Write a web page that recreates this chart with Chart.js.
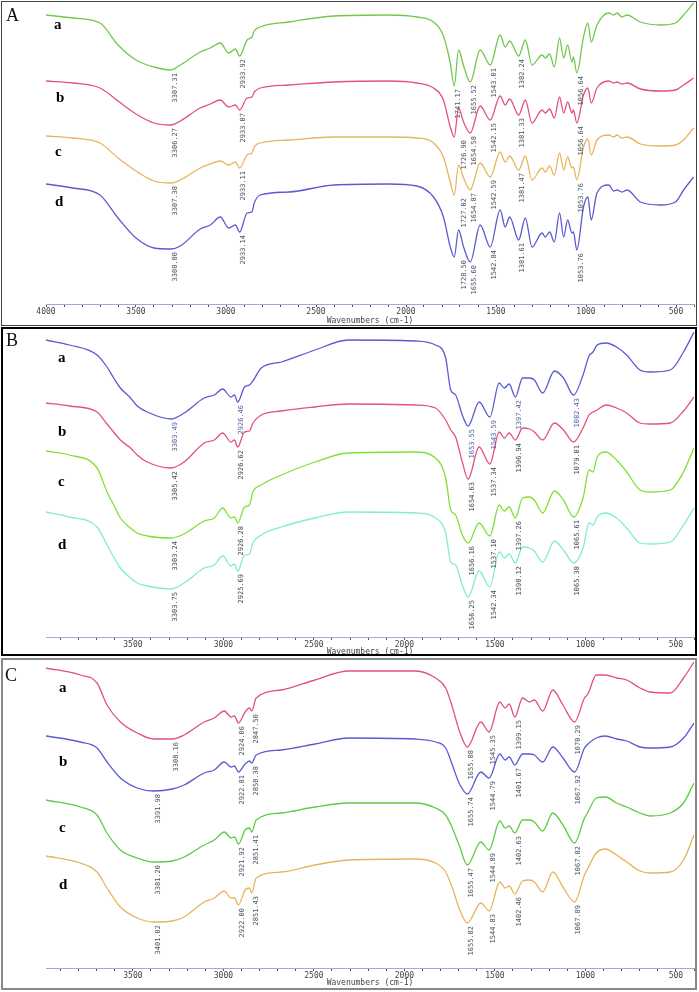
<!DOCTYPE html>
<html>
<head>
<meta charset="utf-8">
<script src="https://cdn.jsdelivr.net/npm/chart.js@4.4.0/dist/chart.umd.min.js"></script>
<style>
body { margin: 0; background: #fff; width: 699px; height: 992px; position: relative; overflow: hidden; }
.frame { position: absolute; box-sizing: border-box; }
#frameA { left: 1px; top: 1px; width: 696px; height: 325px; border: 1px solid #444; }
#frameB { left: 1px; top: 327px; width: 696px; height: 329px; border: 2px solid #000; }
#frameC { left: 1px; top: 658px; width: 696px; height: 332px; border: 2px solid #888; }
canvas { position: absolute; left: 0; }
.panel { position: absolute; font-family: "Liberation Serif", "DejaVu Serif", serif; font-size: 18px; line-height: 18px; color: #111; }
.curve { position: absolute; font-family: "Liberation Serif", "DejaVu Serif", serif; font-weight: bold; font-size: 15px; line-height: 15px; color: #000; }
</style>
</head>
<body>
<div class="frame" id="frameA"></div>
<div class="frame" id="frameB"></div>
<div class="frame" id="frameC"></div>

<canvas id="chartA" width="699" height="324" style="top:2px"></canvas>
<canvas id="chartB" width="699" height="327" style="top:330px"></canvas>
<canvas id="chartC" width="699" height="327" style="top:661px"></canvas>

<div class="panel" style="left:6px;top:6px">A</div>
<div class="curve" style="left:54px;top:17px">a</div>
<div class="curve" style="left:56px;top:90px">b</div>
<div class="curve" style="left:55px;top:144px">c</div>
<div class="curve" style="left:55px;top:194px">d</div>

<div class="panel" style="left:6px;top:331px">B</div>
<div class="curve" style="left:58px;top:350px">a</div>
<div class="curve" style="left:58px;top:424px">b</div>
<div class="curve" style="left:58px;top:474px">c</div>
<div class="curve" style="left:58px;top:537px">d</div>

<div class="panel" style="left:5px;top:666px">C</div>
<div class="curve" style="left:59px;top:680px">a</div>
<div class="curve" style="left:59px;top:754px">b</div>
<div class="curve" style="left:59px;top:820px">c</div>
<div class="curve" style="left:59px;top:877px">d</div>

<script>
// panel A - wavenumbers (cm-1) and transmittance (arbitrary units, offset per curve)
const wnA = [4000, 3850, 3700, 3600, 3500, 3400, 3306, 3254, 3143, 3087, 3032, 2985, 2948, 2924, 2883, 2856, 2843, 2810, 2650, 2400, 2100, 1940, 1847, 1792, 1754, 1732, 1708, 1680, 1643, 1588, 1532, 1477, 1449, 1424, 1374, 1337, 1300, 1244, 1226, 1202, 1176, 1147, 1124, 1102, 1078, 1070, 1051, 1014, 990, 971, 939, 874, 846, 828, 800, 772, 698, 587, 503, 458, 402];
const aA = [289, 286, 281, 259, 244, 237, 234, 239, 252, 256, 261, 251, 255, 248, 264, 267, 273, 277, 282, 288, 289, 287, 282, 268, 241, 218, 254, 238, 222, 254, 239, 269, 257, 263, 248, 264, 239, 249, 246, 250, 237, 266, 246, 259, 242, 247, 231, 267, 281, 262, 279, 291, 289, 291, 287, 289, 282, 279, 281, 289, 301];
const bA = [223, 221, 216, 203, 190, 181, 179, 183, 196, 200, 204, 197, 199, 194, 206, 207, 212, 216, 219, 222, 223, 221, 216, 204, 177, 167, 196, 182, 171, 198, 184, 208, 199, 205, 189, 204, 181, 194, 191, 195, 186, 207, 191, 202, 191, 194, 181, 209, 216, 201, 216, 223, 221, 222, 220, 221, 215, 213, 214, 219, 226];
const cA = [168, 166, 161, 146, 133, 123, 121, 124, 136, 140, 143, 139, 142, 136, 149, 151, 157, 161, 164, 167, 167, 166, 161, 147, 122, 109, 139, 126, 114, 141, 127, 152, 142, 148, 134, 148, 124, 136, 132, 138, 129, 151, 134, 147, 136, 137, 124, 157, 165, 149, 164, 169, 167, 169, 166, 167, 160, 158, 159, 164, 176];
const dA = [120, 116, 109, 86, 66, 56, 55, 58, 75, 79, 87, 76, 79, 72, 91, 92, 101, 109, 112, 119, 120, 118, 107, 87, 57, 47, 74, 57, 42, 79, 57, 94, 77, 87, 64, 86, 57, 71, 67, 72, 62, 91, 67, 84, 71, 72, 54, 97, 107, 84, 111, 119, 113, 114, 112, 114, 102, 99, 102, 114, 127];

// panel B
const wnB = [3980, 3850, 3698, 3643, 3606, 3569, 3513, 3476, 3421, 3290, 3217, 3106, 3050, 3004, 2958, 2939, 2921, 2883, 2856, 2837, 2791, 2680, 2494, 2309, 1939, 1828, 1772, 1744, 1717, 1680, 1648, 1587, 1528, 1476, 1448, 1421, 1387, 1347, 1309, 1282, 1236, 1171, 1121, 1065, 1013, 980, 958, 935, 887, 828, 772, 698, 643, 531, 458, 400];
const aB = [297, 292, 282, 270, 259, 249, 239, 231, 225, 218, 224, 239, 242, 248, 240, 242, 235, 250, 252, 256, 269, 275, 287, 297, 296, 292, 279, 247, 242, 222, 211, 235, 220, 254, 249, 253, 240, 259, 259, 257, 244, 266, 259, 242, 262, 281, 285, 292, 294, 290, 282, 267, 265, 267, 285, 305];
const bB = [234, 231, 225, 213, 205, 197, 189, 182, 175, 169, 175, 194, 197, 204, 195, 197, 190, 205, 206, 214, 222, 226, 230, 233, 232, 229, 217, 207, 200, 175, 158, 190, 173, 205, 199, 204, 197, 209, 208, 205, 197, 214, 207, 195, 209, 222, 225, 227, 232, 229, 224, 214, 213, 214, 226, 240];
const cB = [186, 182, 169, 145, 132, 119, 109, 104, 101, 99, 103, 116, 119, 129, 119, 120, 114, 130, 132, 145, 152, 162, 175, 184, 185, 179, 159, 127, 122, 102, 94, 114, 101, 132, 126, 130, 119, 139, 140, 137, 124, 146, 137, 120, 139, 167, 165, 180, 185, 177, 165, 147, 145, 147, 165, 189];
const dB = [125, 120, 110, 92, 80, 69, 59, 54, 51, 48, 54, 69, 72, 81, 71, 73, 66, 82, 83, 94, 102, 110, 119, 125, 124, 119, 104, 75, 72, 52, 40, 66, 50, 85, 79, 83, 74, 90, 89, 86, 75, 96, 87, 74, 89, 114, 112, 120, 124, 119, 109, 94, 93, 95, 112, 129];

// panel C
const wnC = [3980, 3790, 3698, 3643, 3569, 3476, 3384, 3282, 3217, 3106, 3050, 2995, 2958, 2939, 2917, 2880, 2856, 2843, 2819, 2680, 2494, 2309, 1939, 1828, 1772, 1735, 1698, 1652, 1578, 1532, 1473, 1443, 1421, 1390, 1347, 1309, 1282, 1236, 1180, 1124, 1060, 1005, 986, 940, 889, 828, 772, 698, 643, 531, 458, 400];
const aC = [300, 293, 285, 263, 246, 235, 229, 229, 233, 246, 250, 257, 251, 252, 245, 256, 260, 257, 270, 278, 288, 297, 297, 290, 280, 261, 238, 221, 246, 236, 266, 260, 264, 251, 270, 266, 268, 257, 278, 263, 246, 270, 274, 293, 293, 290, 288, 280, 276, 275, 290, 306];
const bC = [232, 226, 220, 206, 190, 180, 177, 179, 183, 195, 198, 206, 201, 202, 196, 204, 207, 205, 213, 218, 224, 230, 229, 226, 220, 203, 185, 174, 196, 190, 214, 208, 211, 203, 214, 214, 213, 206, 221, 210, 196, 220, 224, 230, 232, 229, 227, 221, 220, 221, 230, 245];
const cC = [168, 161, 153, 135, 118, 110, 106, 107, 111, 123, 128, 136, 130, 131, 124, 138, 140, 136, 148, 155, 161, 165, 165, 160, 153, 140, 123, 103, 126, 118, 147, 140, 142, 135, 148, 148, 146, 137, 155, 143, 125, 150, 156, 170, 171, 165, 161, 155, 152, 155, 165, 185];
const dC = [112, 105, 96, 80, 61, 50, 46, 47, 51, 66, 70, 77, 70, 70, 63, 78, 80, 75, 90, 96, 103, 108, 109, 105, 96, 80, 60, 45, 65, 57, 86, 80, 82, 74, 87, 88, 86, 76, 96, 81, 66, 93, 100, 115, 119, 113, 106, 97, 95, 96, 108, 133];

// peak labels: [text, curve index, wavenumber of the dip, optional label x]
const peaksA = [
    ['3307.31', 0, 3306], ['2933.92', 0, 2924], ['1741.17', 0, 1732], ['1655.52', 0, 1643], ['1543.01', 0, 1532], ['1382.24', 0, 1374], ['1056.64', 0, 1051],
    ['3306.27', 1, 3306], ['2933.07', 1, 2924], ['1726.90', 1, 1732, 1678], ['1654.58', 1, 1643], ['1542.15', 1, 1532], ['1381.33', 1, 1374], ['1056.64', 1, 1051],
    ['3307.38', 2, 3306], ['2933.11', 2, 2924], ['1727.02', 2, 1732, 1678], ['1654.87', 2, 1643], ['1542.59', 2, 1532], ['1381.47', 2, 1374], ['1053.76', 2, 1051],
    ['3308.80', 3, 3306], ['2933.14', 3, 2924], ['1728.50', 3, 1732, 1678], ['1655.60', 3, 1643], ['1542.84', 3, 1532], ['1381.61', 3, 1374], ['1053.76', 3, 1051]
];
const peaksB = [
    ['3303.49', 0, 3290], ['2926.46', 0, 2921], ['1653.55', 0, 1648], ['1543.59', 0, 1528], ['1397.42', 0, 1387], ['1082.43', 0, 1065],
    ['3305.42', 1, 3290], ['2926.62', 1, 2921], ['1654.63', 1, 1648], ['1537.34', 1, 1528], ['1396.94', 1, 1387], ['1079.01', 1, 1065],
    ['3303.24', 2, 3290], ['2926.28', 2, 2921], ['1656.16', 2, 1648], ['1537.10', 2, 1528], ['1397.26', 2, 1387], ['1065.61', 2, 1065],
    ['3303.75', 3, 3290], ['2925.69', 3, 2921], ['1656.25', 3, 1648], ['1542.34', 3, 1528], ['1398.12', 3, 1387], ['1065.38', 3, 1065]
];
const peaksC = [
    ['3308.16', 0, 3282], ['2924.06', 0, 2917], ['2847.50', 0, 2843], ['1655.88', 0, 1652], ['1545.35', 0, 1532], ['1399.15', 0, 1390], ['1070.29', 0, 1060],
    ['3391.98', 1, 3384], ['2922.81', 1, 2917], ['2850.38', 1, 2843], ['1655.74', 1, 1652], ['1544.79', 1, 1532], ['1401.67', 1, 1390], ['1067.92', 1, 1060],
    ['3381.20', 2, 3384], ['2921.92', 2, 2917], ['2851.41', 2, 2843], ['1655.47', 2, 1652], ['1544.89', 2, 1532], ['1402.63', 2, 1390], ['1067.82', 2, 1060],
    ['3401.02', 3, 3384], ['2922.00', 3, 2917], ['2851.43', 3, 2843], ['1655.82', 3, 1652], ['1544.83', 3, 1532], ['1402.46', 3, 1390], ['1067.89', 3, 1060]
];

const GREEN = '#72c84c', PINK = '#e2517f', ORANGE = '#e8b45c', BLUE = '#5a5ad2', CYAN = '#82ecd2', LIME = '#80e034';
const MONO = '"DejaVu Sans Mono", "Liberation Mono", monospace';

// draws the rotated peak numbers under each dip
const peakLabels = {
    id: 'peakLabels',
    afterDatasetsDraw(chart, args, opts) {
        const ctx = chart.ctx;
        const x = chart.scales.x, y = chart.scales.y;
        ctx.save();
        ctx.font = '7px ' + MONO;
        ctx.textAlign = 'right';
        ctx.textBaseline = 'middle';
        opts.peaks.forEach(p => {
            const pt = chart.data.datasets[p[1]].data.find(d => d.x === p[2]);
            const px = p[3] ? x.getPixelForValue(p[3]) : x.getPixelForValue(p[2]) + 4;
            const py = y.getPixelForValue(pt.y) + 3;
            ctx.save();
            ctx.fillStyle = opts.colors[p[1]];
            ctx.translate(px, py);
            ctx.rotate(-Math.PI / 2);
            ctx.fillText(p[0], 0, 0);
            ctx.restore();
        });
        ctx.restore();
    }
};

function spectrum(id, wn, curves, colors, peaks, labelColors, maxX, yMax, axisH) {
    return new Chart(document.getElementById(id), {
        type: 'line',
        data: {
            datasets: curves.map((c, i) => ({
                data: wn.map((w, k) => ({ x: w, y: c[k] })),
                borderColor: colors[i],
                borderWidth: 1.3,
                pointRadius: 0,
                fill: false,
                cubicInterpolationMode: 'monotone'
            }))
        },
        options: {
            responsive: false,
            animation: false,
            events: [],
            layout: { padding: { left: 46, right: 5, top: 0, bottom: 0 } },
            plugins: {
                legend: { display: false },
                tooltip: { enabled: false },
                peakLabels: { peaks: peaks, colors: labelColors }
            },
            scales: {
                x: {
                    type: 'linear',
                    reverse: true,
                    min: 400,
                    max: maxX,
                    afterFit(axis) { axis.height = axisH; },
                    border: { color: '#a2aad0', width: 1 },
                    grid: { drawOnChartArea: false, tickLength: 3, color: '#555' },
                    ticks: {
                        stepSize: 100,
                        autoSkip: false,
                        maxRotation: 0,
                        includeBounds: false,
                        padding: 0,
                        color: '#444',
                        font: { family: MONO, size: 8 },
                        callback: v => (v % 500 === 0 ? String(v) : '')
                    },
                    title: {
                        display: true,
                        text: 'Wavenumbers (cm-1)',
                        color: '#444',
                        padding: 0,
                        font: { family: MONO, size: 8 }
                    }
                },
                y: { display: false, min: 0, max: yMax }
            }
        },
        plugins: [peakLabels]
    });
}

const grayLabels = ['#4b5362', '#4b5362', '#4b5362', '#4b5362'];

spectrum('chartA', wnA, [aA, bA, cA, dA], [GREEN, PINK, ORANGE, BLUE], peaksA, grayLabels, 4000, 302, 22);
spectrum('chartB', wnB, [aB, bB, cB, dB], [BLUE, PINK, LIME, CYAN], peaksB, ['#5560a8', '#424a58', '#424a58', '#424a58'], 3980, 307, 20);
spectrum('chartC', wnC, [aC, bC, cC, dC], [PINK, BLUE, '#5ccc44', ORANGE], peaksC, grayLabels, 3980, 307, 20);
</script>
</body>
</html>
